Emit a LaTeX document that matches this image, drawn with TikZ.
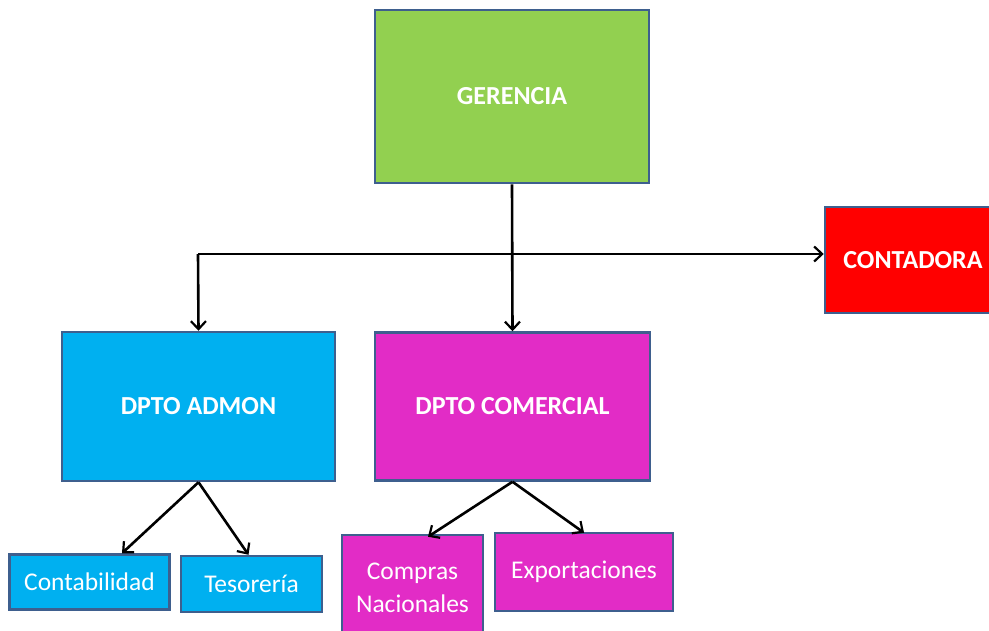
\documentclass[tikz,border=0pt]{standalone}
\usepackage{fontspec}
\setmainfont{Carlito}
\usetikzlibrary{arrows.meta}
\definecolor{gerc}{HTML}{92D050}
\definecolor{admc}{HTML}{00B0F0}
\definecolor{comc}{HTML}{E22CC6}
\definecolor{redc}{HTML}{FF0000}
\definecolor{bordc}{HTML}{3E5F8E}
\tikzset{
  box/.style={draw=bordc, line width=2.5pt, rectangle, inner sep=0pt, text=white, align=center},
  bigtxt/.style={font=\fontsize{26}{30}\selectfont\bfseries},
  smalltxt/.style={font=\fontsize{25.5}{33}\selectfont},
  arr/.style={draw=black, line width=2.6pt, -{Straight Barb[length=8pt,width=15pt,line width=2.2pt]}}
}
\begin{document}
\begin{tikzpicture}[x=1pt,y=-1pt]
\useasboundingbox (0,0) rectangle (989,630);
\begin{scope}
\clip (0,0) rectangle (989,630);
\node[box, bigtxt, fill=gerc, minimum width=274pt, minimum height=173pt] (ger) at (512,96.5) {GERENCIA};
\node[box, bigtxt, fill=redc, minimum width=176pt, minimum height=106pt] (cont) at (913,260) {CONTADORA};
\node[box, bigtxt, fill=admc, minimum width=273pt, minimum height=149pt] (admon) at (198.5,406.5) {DPTO ADMON};
\node[box, bigtxt, fill=comc, minimum width=275pt, minimum height=148pt] (comer) at (512.5,406.5) {DPTO COMERCIAL};
\node[box, smalltxt, fill=admc, minimum width=160pt, minimum height=55pt] (conta) at (89.5,582) {Contabilidad};
\node[box, smalltxt, fill=admc, minimum width=141pt, minimum height=56pt] (teso) at (251.5,584) {Tesorería};
\node[box, smalltxt, fill=comc, minimum width=141pt, minimum height=106pt] (compras) at (412.5,588) {Compras\\Nacionales};
\node[box, smalltxt, fill=comc, minimum width=178pt, minimum height=78pt] (expo) at (584,572) {Exportaciones};
\coordinate (j) at (198,254);
\draw[arr] (ger.south) -- (comer.north);
\draw[arr] (j) -- (j -| cont.west);
\draw[arr] (j) -- (admon.north);
\draw[arr] (admon.south) -- ([xshift=32.5pt]conta.north);
\draw[arr] (admon.south) -- ([xshift=-3pt]teso.north);
\draw[arr] (comer.south) -- ([xshift=15.5pt,yshift=-3pt]compras.north);
\draw[arr] (comer.south) -- ([yshift=-1pt]expo.north);
\end{scope}
\end{tikzpicture}
\end{document}
